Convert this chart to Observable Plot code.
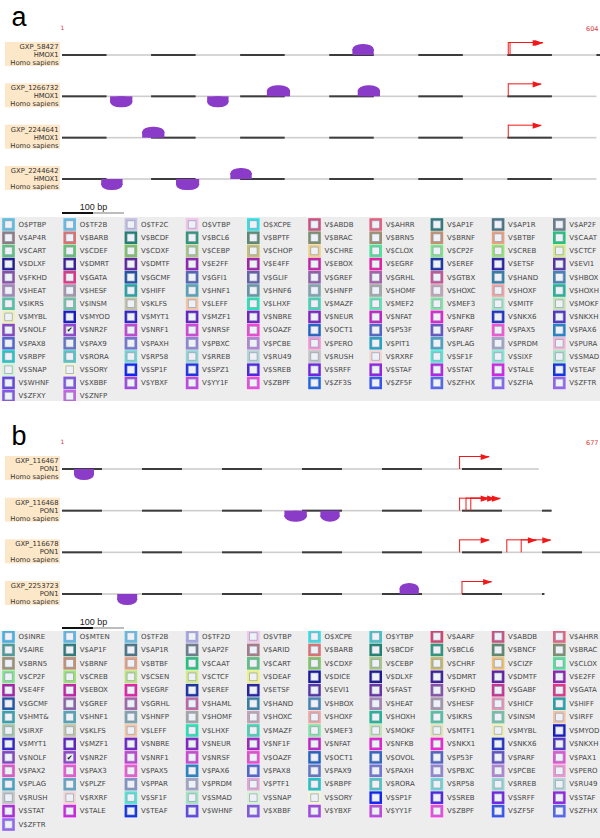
<!DOCTYPE html>
<html><head><meta charset="utf-8">
<script src="https://cdn.jsdelivr.net/npm/d3@7"></script>
<script src="https://cdn.jsdelivr.net/npm/@observablehq/plot@0.6"></script>
<style>
html,body{margin:0;padding:0;background:#fff}
body{width:600px;height:838px;overflow:hidden;position:relative;font-family:"DejaVu Sans",sans-serif}
.part{position:absolute;left:0;width:600px}
.part svg{display:block}
</style></head>
<body>
<div class="part" id="ta" style="top:0"></div>
<div class="part" id="la" style="top:217px"></div>
<div class="part" id="tb" style="top:401px"></div>
<div class="part" id="lb" style="top:631px"></div>
<script>
// ---------- panel a data ----------
const tracksA = ["GXP_58427", "GXP_1266732", "GXP_2244641", "GXP_2244642"];
const geneA = "HMOX1";
const speciesA = "Homo sapiens";
const seqLenA = 604;
const trackLenA = [604, 600, 600, 600];
const sitesA = [
  {track: 0, from: 326, to: 350, strand: "+"},
  {track: 1, from: 54, to: 79, strand: "-"},
  {track: 1, from: 163, to: 187, strand: "-"},
  {track: 1, from: 230, to: 256, strand: "+"},
  {track: 1, from: 332, to: 357, strand: "+"},
  {track: 2, from: 90, to: 115, strand: "+"},
  {track: 3, from: 44, to: 68, strand: "-"},
  {track: 3, from: 128, to: 154, strand: "-"},
  {track: 3, from: 189, to: 213, strand: "+"}
];
const tssA = [
  {track: 0, pos: 501}, {track: 0, pos: 503},
  {track: 1, pos: 501},
  {track: 2, pos: 501}
];
const legendA = [
  "O$PTBP","O$TF2B","O$TF2C","O$VTBP","O$XCPE","V$ABDB","V$AHRR","V$AP1F","V$AP1R","V$AP2F",
  "V$AP4R","V$BARB","V$BCDF","V$BCL6","V$BPTF","V$BRAC","V$BRN5","V$BRNF","V$BTBF","V$CAAT",
  "V$CART","V$CDEF","V$CDXF","V$CEBP","V$CHOP","V$CHRE","V$CLOX","V$CP2F","V$CREB","V$CTCF",
  "V$DLXF","V$DMRT","V$DMTF","V$E2FF","V$E4FF","V$EBOX","V$EGRF","V$EREF","V$ETSF","V$EVI1",
  "V$FKHD","V$GATA","V$GCMF","V$GFI1","V$GLIF","V$GREF","V$GRHL","V$GTBX","V$HAND","V$HBOX",
  "V$HEAT","V$HESF","V$HIFF","V$HNF1","V$HNF6","V$HNFP","V$HOMF","V$HOXC","V$HOXF","V$HOXH",
  "V$IKRS","V$INSM","V$KLFS","V$LEFF","V$LHXF","V$MAZF","V$MEF2","V$MEF3","V$MITF","V$MOKF",
  "V$MYBL","V$MYOD","V$MYT1","V$MZF1","V$NBRE","V$NEUR","V$NFAT","V$NFKB","V$NKX6","V$NKXH",
  "V$NOLF","V$NR2F","V$NRF1","V$NRSF","V$OAZF","V$OCT1","V$P53F","V$PARF","V$PAX5","V$PAX6",
  "V$PAX8","V$PAX9","V$PAXH","V$PBXC","V$PCBE","V$PERO","V$PIT1","V$PLAG","V$PRDM","V$PURA",
  "V$RBPF","V$RORA","V$RP58","V$RREB","V$RU49","V$RUSH","V$RXRF","V$SF1F","V$SIXF","V$SMAD",
  "V$SNAP","V$SORY","V$SP1F","V$SPZ1","V$SREB","V$SRFF","V$STAF","V$STAT","V$TALE","V$TEAF",
  "V$WHNF","V$XBBF","V$YBXF","V$YY1F","V$ZBPF","V$ZF3S","V$ZF5F","V$ZFHX","V$ZFIA","V$ZFTR",
  "V$ZFXY","V$ZNFP"
];

// ---------- panel b data ----------
const tracksB = ["GXP_116467", "GXP_116468", "GXP_116678", "GXP_2253723"];
const geneB = "PON1";
const speciesB = "Homo sapiens";
const seqLenB = 677;
const trackLenB = [596, 612, 677, 603];
const sitesB = [
  {track: 0, from: 15, to: 40, strand: "-"},
  {track: 1, from: 278, to: 306, strand: "-"},
  {track: 1, from: 323, to: 347, strand: "-"},
  {track: 3, from: 69, to: 94, strand: "-"},
  {track: 3, from: 422, to: 446, strand: "+"}
];
const tssB = [
  {track: 0, pos: 497},
  {track: 1, pos: 497}, {track: 1, pos: 505}, {track: 1, pos: 511},
  {track: 2, pos: 497}, {track: 2, pos: 556}, {track: 2, pos: 574},
  {track: 3, pos: 500}
];
const legendB = [
  "O$INRE","O$MTEN","O$TF2B","O$TF2D","O$VTBP","O$XCPE","O$YTBP","V$AARF","V$ABDB","V$AHRR",
  "V$AIRE","V$AP1F","V$AP1R","V$AP2F","V$ARID","V$BARB","V$BCDF","V$BCL6","V$BNCF","V$BRAC",
  "V$BRN5","V$BRNF","V$BTBF","V$CAAT","V$CART","V$CDXF","V$CEBP","V$CHRF","V$CIZF","V$CLOX",
  "V$CP2F","V$CREB","V$CSEN","V$CTCF","V$DEAF","V$DICE","V$DLXF","V$DMRT","V$DMTF","V$E2FF",
  "V$E4FF","V$EBOX","V$EGRF","V$EREF","V$ETSF","V$EVI1","V$FAST","V$FKHD","V$GABF","V$GATA",
  "V$GCMF","V$GREF","V$GRHL","V$HAML","V$HAND","V$HBOX","V$HEAT","V$HESF","V$HICF","V$HIFF",
  "V$HMT&","V$HNF1","V$HNFP","V$HOMF","V$HOXC","V$HOXF","V$HOXH","V$IKRS","V$INSM","V$IRFF",
  "V$IRXF","V$KLFS","V$LEFF","V$LHXF","V$MAZF","V$MEF3","V$MOKF","V$MTF1","V$MYBL","V$MYOD",
  "V$MYT1","V$MZF1","V$NBRE","V$NEUR","V$NF1F","V$NFAT","V$NFKB","V$NKX1","V$NKX6","V$NKXH",
  "V$NOLF","V$NR2F","V$NRF1","V$NRSF","V$OAZF","V$OCT1","V$OVOL","V$P53F","V$PARF","V$PAX1",
  "V$PAX2","V$PAX3","V$PAX5","V$PAX6","V$PAX8","V$PAX9","V$PAXH","V$PBXC","V$PCBE","V$PERO",
  "V$PLAG","V$PLZF","V$PPAR","V$PRDM","V$PTF1","V$RBPF","V$RORA","V$RP58","V$RREB","V$RU49",
  "V$RUSH","V$RXRF","V$SF1F","V$SMAD","V$SNAP","V$SORY","V$SP1F","V$SREB","V$SRFF","V$STAF",
  "V$STAT","V$TALE","V$TEAF","V$WHNF","V$XBBF","V$YBXF","V$YY1F","V$ZBPF","V$ZF5F","V$ZFHX",
  "V$ZFTR"
];
const checkedFamily = "V$NR2F";

// ---------- styles (colours of the family swatches) ----------
const familyColor = {
  "O$PTBP":"#5cbfe0","O$TF2B":"#62bde6","O$TF2C":"#c6bfe6","O$VTBP":"#f2c4ea","O$XCPE":"#2fe0e6",
  "O$INRE":"#3fb2e8","O$MTEN":"#58b8e8","O$TF2D":"#a8a6e6","O$YTBP":"#40c4c8",
  "V$AARF":"#d8406e","V$ABDB":"#cf4f7f","V$AHRR":"#e8607f","V$AIRE":"#4f9a94","V$AP1F":"#2e7a78",
  "V$AP1R":"#4a7484","V$AP2F":"#6c7c88","V$AP4R":"#8e7a80","V$ARID":"#a87a86","V$BARB":"#e07070",
  "V$BCDF":"#1f8270","V$BCL6":"#2f967a","V$BNCF":"#5f8868","V$BPTF":"#5f8870","V$BRAC":"#7f8e6a",
  "V$BRN5":"#a08e70","V$BRNF":"#c49070","V$BTBF":"#e8a080","V$CAAT":"#20c47a","V$CART":"#5cc27e",
  "V$CDEF":"#66c472","V$CDXF":"#80c462","V$CEBP":"#a6c682","V$CHOP":"#c8c070","V$CHRE":"#f0d084",
  "V$CHRF":"#c6b866","V$CIZF":"#f0c06e","V$CLOX":"#4ee496","V$CP2F":"#80e488","V$CREB":"#98e470",
  "V$CSEN":"#b8e47c","V$CTCF":"#d4ec84","V$DEAF":"#eef080","V$DICE":"#1a1aa0","V$DLXF":"#221a94",
  "V$DMRT":"#40209a","V$DMTF":"#6220a2","V$E2FF":"#9220b4","V$E4FF":"#a820a8","V$EBOX":"#c820a8",
  "V$EGRF":"#e620a6","V$EREF":"#1a32a4","V$ETSF":"#2a22a6","V$EVI1":"#5634a8","V$FAST":"#6a34a4",
  "V$FKHD":"#8850a8","V$GABF":"#c83492","V$GATA":"#e43488","V$GCMF":"#2254a6","V$GFI1":"#5266b6",
  "V$GLIF":"#6462a8","V$GREF":"#9060a8","V$GRHL":"#a664a8","V$GTBX":"#c85496","V$HAML":"#c064a6",
  "V$HAND":"#3480a4","V$HBOX":"#4484b4","V$HEAT":"#a484b4","V$HESF":"#a894a8","V$HICF":"#e494b4",
  "V$HIFF":"#22a4a4","V$HMT&":"#34a2a8","V$HNF1":"#52a4b6","V$HNF6":"#6496a4","V$HNFP":"#82a2ac",
  "V$HOMF":"#a6a6a6","V$HOXC":"#c4a4b4","V$HOXF":"#f0a4a4","V$HOXH":"#22b494","V$IKRS":"#52c4a4",
  "V$INSM":"#74c2a4","V$IRFF":"#f2c4a6","V$IRXF":"#a4c4a4","V$KLFS":"#c4c4a2","V$LEFF":"#f4c6a4",
  "V$LHXF":"#22e4b4","V$MAZF":"#44d4b4","V$MEF2":"#62e2b2","V$MEF3":"#84e4a4","V$MITF":"#a4e4c4",
  "V$MOKF":"#c4e4b4","V$MTF1":"#e2e4b4","V$MYBL":"#f0f0b4","V$MYOD":"#1a1ac4","V$MYT1":"#3222cc",
  "V$MZF1":"#6222c4","V$NBRE":"#7222c6","V$NEUR":"#8422c4","V$NF1F":"#a422c6","V$NFAT":"#c422c6",
  "V$NFKB":"#e422d2","V$NKX1":"#f422d4","V$NKX6":"#2234c4","V$NKXH":"#5234c6","V$NOLF":"#8444c4",
  "V$NR2F":"#9444cc","V$NRF1":"#c444d4","V$NRSF":"#d444d6","V$OAZF":"#f444d4","V$OCT1":"#2264c4",
  "V$OVOL":"#3466c4","V$P53F":"#5264c4","V$PARF":"#6454c4","V$PAX1":"#e454d4","V$PAX2":"#e454c6",
  "V$PAX3":"#f054d4","V$PAX5":"#f456d4","V$PAX6":"#2284c4","V$PAX8":"#5264d4","V$PAX9":"#6474c4",
  "V$PAXH":"#7474d4","V$PBXC":"#9484d4","V$PCBE":"#b484d4","V$PERO":"#f494d4","V$PIT1":"#22a4c4",
  "V$PLAG":"#44a4c4","V$PLZF":"#64a4c4","V$PPAR":"#8494c4","V$PRDM":"#a4a4c4","V$PTF1":"#e4a4d4",
  "V$PURA":"#f4b4d4","V$RBPF":"#22c4c4","V$RORA":"#54c4c4","V$RP58":"#74d4d4","V$RREB":"#94d4d4",
  "V$RU49":"#b4d4d4","V$RUSH":"#c4c4c4","V$RXRF":"#f4d4d4","V$SF1F":"#54e4d4","V$SIXF":"#84e4d4",
  "V$SMAD":"#a4e4c4","V$SNAP":"#d4f4d4","V$SORY":"#f4f4d4","V$SP1F":"#1224f4","V$SPZ1":"#2234e4",
  "V$SREB":"#5224e4","V$SRFF":"#7224e4","V$STAF":"#9424e4","V$STAT":"#b424e4","V$TALE":"#d424e4",
  "V$TEAF":"#1234e4","V$WHNF":"#6444e4","V$XBBF":"#8454e4","V$YBXF":"#a444e4","V$YY1F":"#c444e4",
  "V$ZBPF":"#f444e4","V$ZF3S":"#2264e4","V$ZF5F":"#3454f4","V$ZFHX":"#5464f4","V$ZFIA":"#8464f4",
  "V$ZFTR":"#9464f4","V$ZFXY":"#8454e4","V$ZNFP":"#c464e4"
};

const squareSym = {draw(ctx, size) { const r = Math.sqrt(size / Math.PI); ctx.rect(-r, -r, 2 * r, 2 * r); }};
const triRight = {draw(ctx, size) { const r = Math.sqrt(size / Math.PI); ctx.moveTo(r, 0); ctx.lineTo(-r, -r * 0.68); ctx.lineTo(-r, r * 0.68); ctx.closePath(); }};

const SITE = "#8a3bc8", TSSRED = "#f01818", ARROW_BP = 37;

function trackPanel({letter, names, gene, species, seqLen, lens, sites, tss, height, xRange, yRange, letterY, numY}) {
  const idx = names.map((_, i) => i);
  const last = names.length - 1;
  const ruler = [];
  lens.forEach((len, t) => { for (let k = 0; k < len; k += 100) ruler.push({track: t, from: k, to: Math.min(k + 50, len)}); });
  const up = sites.filter(d => d.strand === "+"), down = sites.filter(d => d.strand === "-");
  return Plot.plot({
    width: 600, height, margin: 0,
    x: {domain: [0, seqLen], range: xRange, axis: null},
    y: {domain: [0, last], range: yRange, axis: null},
    style: {background: "#fff", overflow: "visible"},
    marks: [
      Plot.text([letter], {frameAnchor: "top-left", dx: 11, dy: letterY, lineAnchor: "bottom", textAnchor: "start",
        fontSize: 27, fontFamily: "Liberation Sans, Arial, sans-serif", fill: "#000"}),
      Plot.text([0], {x: d => d, text: () => "1", frameAnchor: "top", dy: numY, lineAnchor: "middle",
        fontSize: 6, fill: "#d83838", fontFamily: "DejaVu Sans"}),
      Plot.text([seqLen], {text: d => String(d), frameAnchor: "top-right", dx: -2, dy: numY, lineAnchor: "middle", textAnchor: "end",
        fontSize: 6.5, fill: "#d83838", fontFamily: "DejaVu Sans"}),
      // label boxes
      Plot.rect(idx, {x1: () => 0, x2: () => 0, y1: d => d, y2: d => d, insetLeft: -57, insetRight: 2, insetTop: -13, insetBottom: -11, fill: "#fce7c8"}),
      Plot.text(idx, {x: () => 0, y: d => d, text: d => `${names[d]}\n${gene}\n${species}`, textAnchor: "end", lineAnchor: "middle",
        dx: -4, dy: -1, fontSize: 6.8, lineHeight: 1.18, fill: "#333", fontFamily: "DejaVu Sans"}),
      // sequence line + ruler
      Plot.rect(idx, {x1: () => 0, x2: d => lens[d], y1: d => d, y2: d => d, insetTop: -0.8, insetBottom: -0.8, fill: "#cdcdcd"}),
      Plot.rect(ruler, {x1: "from", x2: "to", y1: "track", y2: "track", insetTop: -1, insetBottom: -1, fill: "#3c3c3c"}),
      // binding sites
      Plot.rect(up, {x1: "from", x2: "to", y1: "track", y2: "track", insetTop: -11, insetBottom: 0, rx: 10, ry: 6, fill: SITE}),
      Plot.rect(up, {x1: "from", x2: "to", y1: "track", y2: "track", insetTop: -6, insetBottom: 0, fill: SITE}),
      Plot.rect(down, {x1: "from", x2: "to", y1: "track", y2: "track", insetTop: 0, insetBottom: -11, rx: 10, ry: 6, fill: SITE}),
      Plot.rect(down, {x1: "from", x2: "to", y1: "track", y2: "track", insetTop: 0, insetBottom: -6, fill: SITE}),
      // TSS arrows
      Plot.rect(tss, {x1: "pos", x2: "pos", y1: "track", y2: "track", insetLeft: -0.5, insetRight: -0.5, insetTop: -13, insetBottom: 0, fill: TSSRED}),
      Plot.rect(tss, {x1: "pos", x2: d => d.pos + ARROW_BP, y1: "track", y2: "track", insetTop: -13, insetBottom: 12, fill: TSSRED}),
      Plot.dot(tss, {x: d => d.pos + ARROW_BP, y: "track", dx: -4.5, dy: -12.5, r: 4.5, symbol: triRight, fill: TSSRED, stroke: "none"}),
      // scale bar
      Plot.rect([last], {x1: () => 0, x2: () => 0, y1: d => d, y2: d => d, insetLeft: 0, insetRight: -31, insetTop: 33, insetBottom: -35, fill: "#111"}),
      Plot.rect([last], {x1: () => 0, x2: () => 0, y1: d => d, y2: d => d, insetLeft: 31, insetRight: -62, insetTop: 33, insetBottom: -35, fill: "#bdbdbd"}),
      Plot.text([last], {x: () => 0, y: d => d, text: () => "100 bp", dx: 31, dy: 27.5, lineAnchor: "middle",
        fontSize: 9, fill: "#222", fontFamily: "Liberation Sans, Arial, sans-serif"})
    ]
  });
}

function legendPanel(names, height, rowY0, rowStep) {
  const cells = names.map((name, i) => ({name, col: i % 10, row: Math.floor(i / 10)}));
  const rows = Math.ceil(names.length / 10);
  return Plot.plot({
    width: 600, height, margin: 0,
    x: {domain: [0, 9], range: [8, 8 + 61.2 * 9], axis: null},
    y: {domain: [0, rows - 1], range: [rowY0, rowY0 + rowStep * (rows - 1)], axis: null},
    color: {type: "identity"},
    style: {background: "#ededed"},
    marks: [
      Plot.dot(cells, {x: "col", y: "row", r: 6.3, symbol: squareSym, fill: d => familyColor[d.name] || "#999", stroke: "none"}),
      Plot.dot(cells, {x: "col", y: "row", r: 3.8, symbol: squareSym, fill: "#eef1f6", stroke: "#8494aa", strokeWidth: 0.6}),
      Plot.text(cells.filter(d => d.name === checkedFamily), {x: "col", y: "row", text: () => "✔", fontSize: 7, fill: "#111", fontFamily: "DejaVu Sans"}),
      Plot.text(cells, {x: "col", y: "row", text: "name", dx: 10, textAnchor: "start", lineAnchor: "middle",
        fontSize: 7, fill: "#454545", fontFamily: "DejaVu Sans"})
    ]
  });
}

document.getElementById("ta").append(trackPanel({
  letter: "a", names: tracksA, gene: geneA, species: speciesA, seqLen: seqLenA, lens: trackLenA,
  sites: sitesA, tss: tssA, height: 217, xRange: [62, 600], yRange: [55, 179], letterY: 25, numY: 28
}));
document.getElementById("la").append(legendPanel(legendA, 184, 7, 13.2));
document.getElementById("tb").append(trackPanel({
  letter: "b", names: tracksB, gene: geneB, species: speciesB, seqLen: seqLenB, lens: trackLenB,
  sites: sitesB, tss: tssB, height: 230, xRange: [62, 603.6], yRange: [68, 193], letterY: 43, numY: 41
}));
document.getElementById("lb").append(legendPanel(legendB, 207, 5, 13.43));
</script>
</body></html>
